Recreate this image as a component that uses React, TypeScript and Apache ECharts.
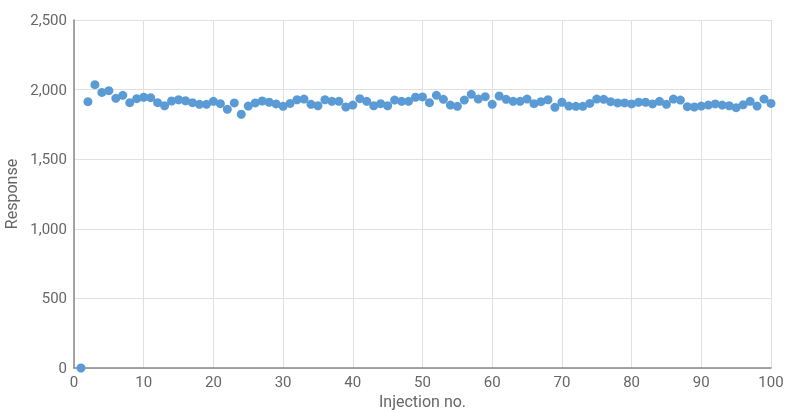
import React, { useEffect, useRef } from "react";
import * as echarts from "echarts";

const injections: number[] = Array.from({ length: 100 }, (_, i) => i + 1);
const responses: number[] = [
  0, 1913, 2035, 1980, 1992, 1937, 1959, 1906, 1935, 1945,
  1942, 1906, 1884, 1918, 1927, 1920, 1906, 1894, 1894, 1916,
  1899, 1858, 1904, 1823, 1882, 1904, 1918, 1909, 1897, 1880,
  1901, 1927, 1932, 1894, 1884, 1927, 1916, 1916, 1875, 1889,
  1935, 1916, 1884, 1899, 1884, 1925, 1916, 1916, 1945, 1947,
  1906, 1959, 1930, 1889, 1880, 1925, 1966, 1932, 1949, 1894,
  1954, 1930, 1916, 1916, 1932, 1899, 1913, 1927, 1873, 1909,
  1882, 1880, 1880, 1901, 1932, 1930, 1913, 1904, 1904, 1897,
  1909, 1909, 1897, 1916, 1894, 1932, 1925, 1877, 1875, 1882,
  1889, 1897, 1889, 1884, 1870, 1891, 1916, 1882, 1932, 1901,
];
const xTicks = { min: 0, max: 100, interval: 10 };
const yTicks = { min: 0, max: 2500, interval: 500 };

const FONT = "Roboto, 'Noto Sans', sans-serif";

export default function App() {
  const ref = useRef<HTMLDivElement>(null);
  useEffect(() => {
    if (!ref.current) return;
    const chart = echarts.init(ref.current, undefined, { renderer: "svg" });
    const data = injections.map((x, i) => [x, responses[i]]);
    chart.setOption({
      animation: false,
      grid: {
        left: 74,
        right: 14,
        top: 20,
        bottom: 42,
        containLabel: false,
        outerBoundsMode: "none",
      },
      xAxis: {
        type: "value",
        min: xTicks.min,
        max: xTicks.max,
        interval: xTicks.interval,
        name: "Injection no.",
        nameLocation: "middle",
        nameGap: 24,
        nameTextStyle: { color: "#666", fontSize: 16, fontFamily: FONT },
        axisLine: { show: true, lineStyle: { color: "#888", width: 1.5 } },
        axisTick: { show: false },
        axisLabel: { color: "#666", fontSize: 15, fontFamily: FONT, margin: 6 },
        splitLine: { show: true, lineStyle: { color: "#e0e0e0", width: 1 } },
      },
      yAxis: {
        type: "value",
        min: yTicks.min,
        max: yTicks.max,
        interval: yTicks.interval,
        name: "Response",
        nameLocation: "middle",
        nameGap: 49,
        nameTextStyle: { color: "#666", fontSize: 16, fontFamily: FONT },
        axisLine: { show: true, lineStyle: { color: "#888", width: 1.5 } },
        axisTick: { show: false },
        axisLabel: {
          color: "#666",
          fontSize: 15,
          fontFamily: FONT,
          margin: 7,
          formatter: (v: number) => v.toLocaleString("en-US"),
        },
        splitLine: { show: true, lineStyle: { color: "#e0e0e0", width: 1 } },
      },
      series: [
        {
          type: "scatter",
          data,
          symbolSize: 9,
          itemStyle: { color: "#5b9bd5", opacity: 1 },
        },
      ],
    });
    return () => chart.dispose();
  }, []);
  return (
    <div
      ref={ref}
      style={{ position: "fixed", left: 0, top: 0, width: 785, height: 410 }}
    />
  );
}
